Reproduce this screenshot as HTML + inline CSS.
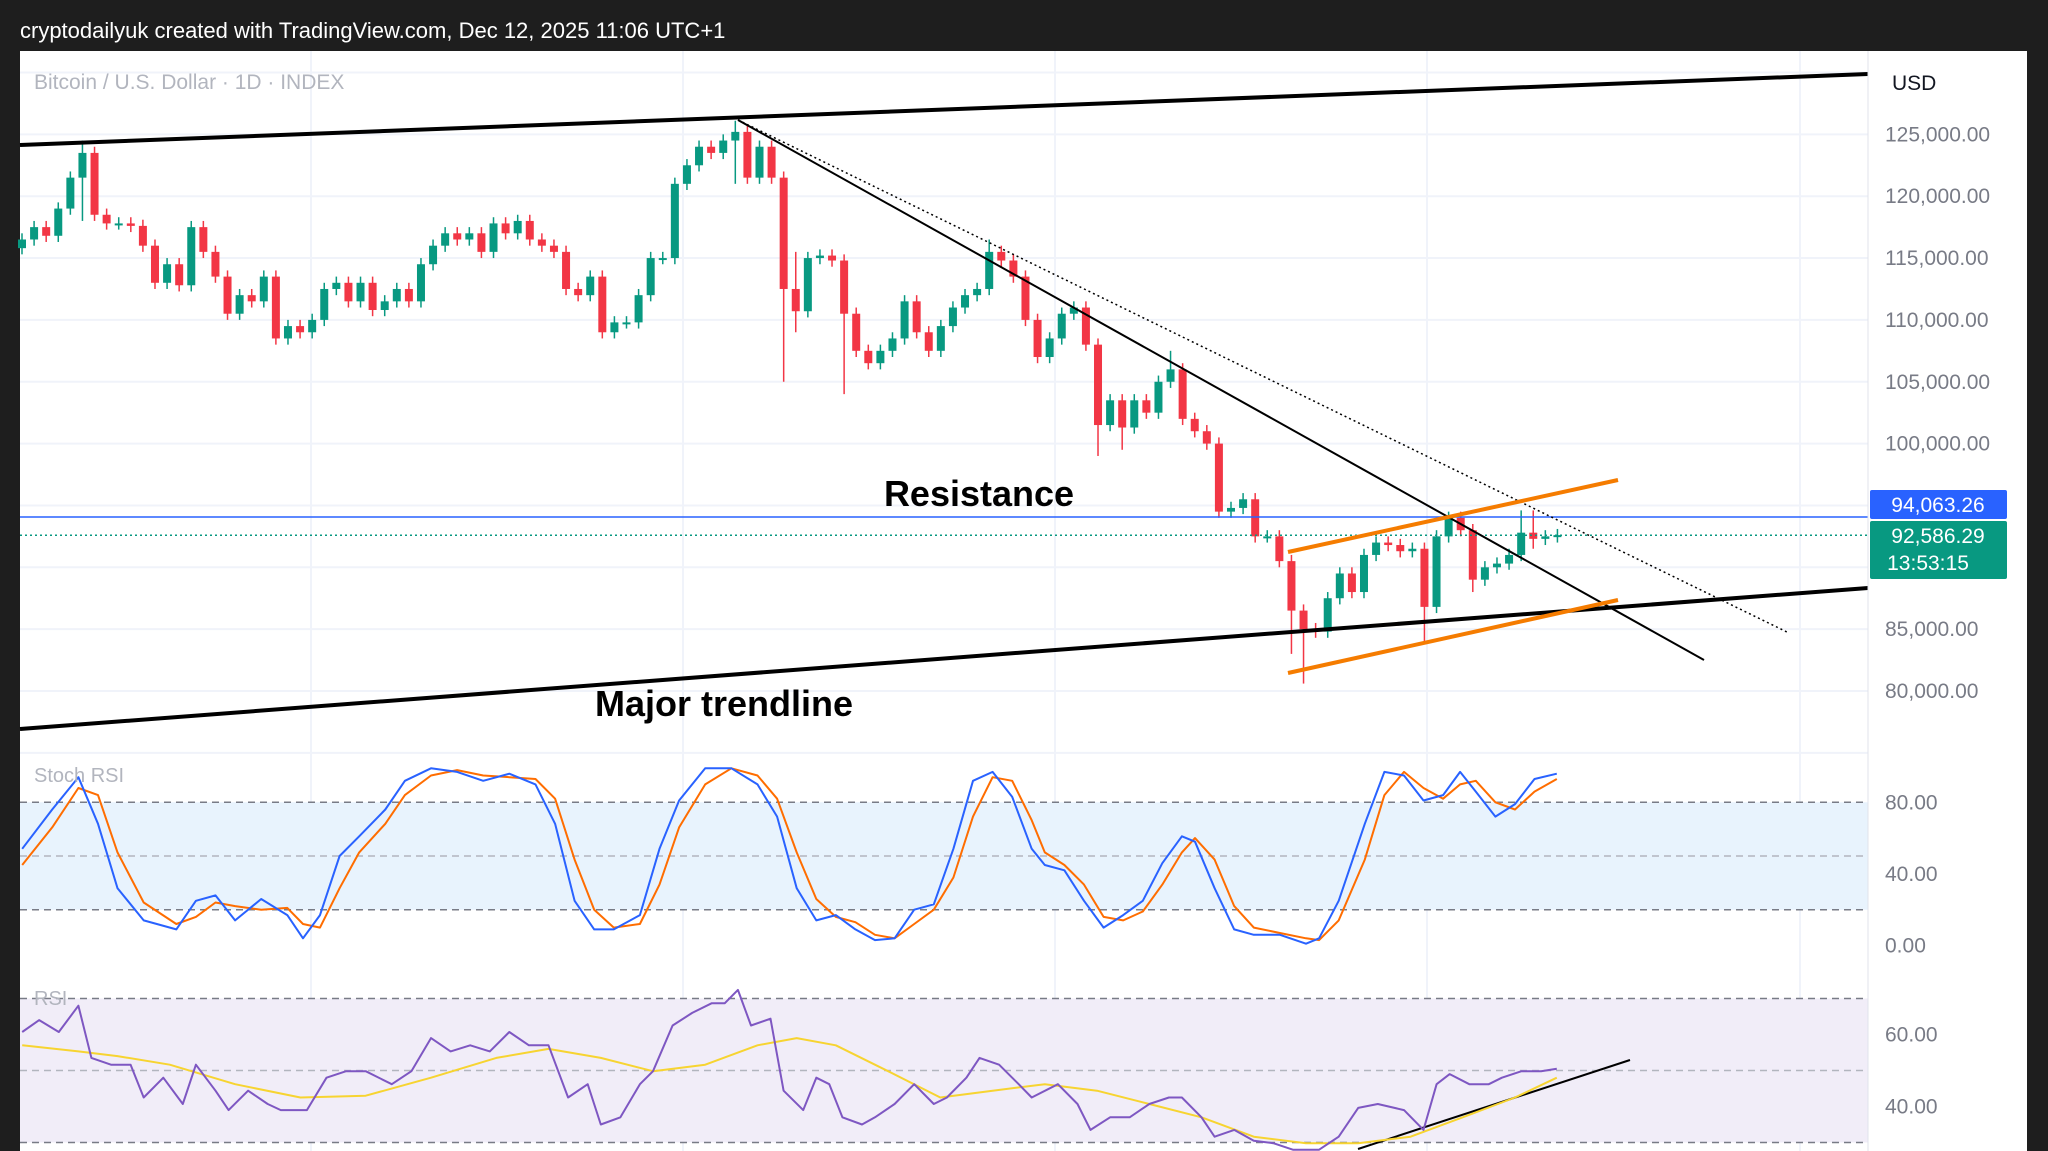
<!DOCTYPE html>
<html><head><meta charset="utf-8"><style>
html,body{margin:0;padding:0;background:#1e1e1e;}
svg{display:block;font-family:"Liberation Sans",sans-serif;}
</style></head><body>
<svg id="c" width="2048" height="1151" viewBox="0 0 2048 1151" xmlns="http://www.w3.org/2000/svg">
<rect x="0" y="0" width="2048" height="1151" fill="#1e1e1e"/>
<text x="20" y="38" font-size="22" fill="#ffffff">cryptodailyuk created with TradingView.com, Dec 12, 2025 11:06 UTC+1</text>
<rect x="20" y="51" width="2007" height="1100" fill="#ffffff"/>
<g id="grid"></g>
<g id="fills"></g>
<g id="price"></g>
<g id="draw"></g>
<g id="ind"></g>
<g id="axis"></g>
<text x="34" y="89" font-size="21" fill="#b2b5be">Bitcoin / U.S. Dollar · 1D · INDEX</text>
<text x="34" y="782" font-size="20" fill="#b2b5be">Stoch RSI</text>
<text x="34" y="1005" font-size="20" fill="#b2b5be">RSI</text>
<text x="979" y="506" font-size="36" font-weight="bold" text-anchor="middle" fill="#000">Resistance</text>
<text x="724" y="716" font-size="36" font-weight="bold" text-anchor="middle" fill="#000">Major trendline</text>
<text x="1892" y="90" font-size="21" fill="#131722">USD</text>
</svg>
<script>
const closes=[116.5,117.5,116.8,119,121.5,123.5,118.5,117.8,117.8,117.6,116,113,114.5,112.8,117.5,115.5,113.5,110.5,112,111.5,113.5,108.5,109.5,109,110,112.5,113,111.5,113,110.8,111.5,112.5,111.5,114.5,116,117,116.5,117,115.5,117.8,117,118,116.5,116,115.5,112.5,112,113.5,109,109.8,109.8,112,115,115,121,122.5,124,123.5,124.5,125.2,121.5,124,121.5,112.5,110.7,115,115.2,114.8,110.5,107.5,106.5,107.5,108.5,111.5,109,107.5,109.5,111,112,112.5,115.5,114.8,113.5,110,107,108.5,110.5,111,108,101.5,103.5,101.3,103.5,102.5,105,106,102,101,100,94.5,94.8,95.5,92.5,92.5,90.5,86.5,85,84.8,87.5,89.5,88,91,92,91.8,91.3,91.5,86.8,92.5,94,93,89,90,90.3,91,92.8,92.3,92.5,92.6];
const firstOpen=115.8;
const wickIdx=[5,59,63,64,68,80,89,91,95,105,106,116,120,124,125];
const wickHi=[124.5,126.1,121.5,115.5,115,116.5,104,104,107.5,91,87,92,93.5,94.6,94.6];
const wickLo=[118,121,105,109,104,113,99,99.5,104.5,83,80.6,84,88,91,91.5];
const stochX=[17,40,60,75,90,110,135,150,165,180,200,220,232,245,260,275,295,310,330,350,370,390,410,425,440,455,470,490,505,520,540,560,580,595,610,625,640,655,670,685,700,715,730,745,760,775,790,800,815,830,845,860,875,890,905,915,930,945,960,980,1000,1010,1025,1045,1060,1075,1090,1105,1118,1130,1145,1160,1175,1192];
const stochK=[54,76,94,68,32,14,9,25,28,14,26,17,4,17,50,61,76,92,99,97,92,96,90,68,25,9,9,17,54,81,99,99,90,72,32,14,17,9,3,4,20,23,54,92,97,83,54,45,42,25,10,17,25,46,61,58,32,9,6,6,1,4,25,68,97,95,81,84,97,86,72,79,93,96];
const stochD=[45,66,88,84,52,24,12,16,24,22,20,21,12,10,32,52,68,84,95,98,95,94,93,82,48,20,10,12,34,66,90,99,95,82,52,26,16,13,6,4,12,20,38,72,94,92,70,52,45,34,16,14,19,34,52,60,48,22,10,7,4,3,14,48,84,97,88,82,90,92,80,76,86,93];
const rsiX=[17,30,45,60,70,85,100,110,125,140,150,165,175,190,205,215,235,250,265,280,300,315,330,345,360,375,390,405,420,435,450,460,475,490,500,515,530,545,555,565,575,590,600,615,625,635,645,660,670,685,700,715,725,740,750,765,780,790,810,825,835,850,865,880,895,905,920,930,945,960,975,990,1010,1025,1040,1055,1075,1090,1100,1110,1125,1140,1150,1165,1180,1192];
const rsiV=[60.7,64,60.7,68,53.5,51.6,51.6,42.5,48,40.7,51.6,44.4,39,44.4,40.7,39,39,48,49.8,49.8,46.2,49.8,59,55.3,57,55.3,60.7,57,57,42.5,46.2,35,37,46.2,49.8,62.5,66,68.7,68.7,72.4,62.5,64.4,44.4,39,48,46.2,37,35,37,40.7,46.2,40.7,42.5,48,53.5,51.6,46.2,42.5,46.2,40.7,33.5,37,37,40.7,42.5,42.5,37,31.6,33.5,30.5,29.8,28,28,31.6,39.6,40.7,39,33.5,46.2,49,46.2,46.2,48,49.8,49.8,50.5];
const maX=[17,60,90,130,180,230,280,330,380,420,460,500,540,580,610,640,680,720,760,800,840,880,920,960,1000,1040,1080,1120,1160,1192];
const maV=[57,55.3,54,51.6,46.2,42.5,43,48,53.5,56,53.5,49.8,51.6,57,59,57,49.8,42.5,44.4,46.2,44.4,40.7,37,31.6,29.8,29.8,31.6,37,42.5,48];
const priceTicks=[125000,120000,115000,110000,105000,100000,85000,80000];
const stochTicks=[80,40,0];
const rsiTicks=[60,40];

const NS="http://www.w3.org/2000/svg";
function mk(p,t,a){const e=document.createElementNS(NS,t);for(const k in a)e.setAttribute(k,a[k]);document.getElementById(p).appendChild(e);return e;}
const L=20,R=1868;
const xI=i=>22+i*12.09;
const xD=d=>d*1.306;
const yP=p=>691-(p-80000)*0.01237;
const yS=v=>945.5-v*1.79;
const yR=v=>1070.5-(v-50)*3.6;

// grid
for(let p=75000;p<=130000;p+=5000){const e=mk('grid','line',{x1:L,x2:R,y1:yP(p),y2:yP(p),stroke:'#f0f3fa','stroke-width':2});}
[311,683,1055,1427,1800].forEach(x=>{const e=mk('grid','line',{x1:x,x2:x,y1:51,y2:1151,stroke:'#f0f3fa','stroke-width':2});});
// indicator fills
let f=mk('fills','rect',{x:L,y:yS(80),width:R-L,height:yS(20)-yS(80),fill:'#e8f3fd'});

f=mk('fills','rect',{x:L,y:yR(70),width:R-L,height:yR(30)-yR(70),fill:'#f1edf8'});

[[yS(80),'#787b86'],[yS(50),'#b2b5be'],[yS(20),'#787b86'],[yR(70),'#787b86'],[yR(50),'#b2b5be'],[yR(30),'#787b86']].forEach(([y,c])=>{const e=mk('fills','line',{x1:L,x2:R,y1:y,y2:y,stroke:c,'stroke-width':1.5,'stroke-dasharray':'7 5'});});
// candles
let prev=firstOpen;
closes.forEach((c,i)=>{
 const o=prev;prev=c;
 const up=c>=o,col=up?'#089981':'#f23645';
 let hi=Math.max(o,c)+0.5,lo=Math.min(o,c)-0.5;
 const w=wickIdx.indexOf(i);if(w>=0){hi=Math.max(hi,wickHi[w]);lo=Math.min(lo,wickLo[w]);}
 const x=xI(i);
 const wk=mk('price','line',{x1:x,x2:x,y1:yP(hi*1000),y2:yP(lo*1000),stroke:col,'stroke-width':1.5});
 
 const t=yP(Math.max(o,c)*1000),b=yP(Math.min(o,c)*1000);
 const r=mk('price','rect',{x:x-4,y:t,width:8,height:Math.max(2,b-t),fill:col});
 
});
// drawings
function ln(x1,y1,x2,y2,c,w,d,name){const e=mk('draw','line',{x1,y1,x2,y2,stroke:c,'stroke-width':w});if(d)e.setAttribute('stroke-dasharray',d);}
ln(L,yP(94063.26),R,yP(94063.26),'#2962ff',1.5,null,'resistance-line');
ln(L,yP(92586.29),R,yP(92586.29),'#089981',1.5,'2 3','last-price-line');
ln(20,145,1868,74,'#000',4,null,'upper-trendline');
ln(20,729,1868,588,'#000',4,null,'major-trendline');
ln(738,120,1704,660,'#000',2,null,'descending-trendline');
ln(738,120,1789,633,'#000',1.5,'2 3','dotted-trendline');
ln(1288,552,1618,480,'#f57c00',4,null,'channel-upper');
ln(1288,673,1618,600,'#f57c00',4,null,'channel-lower');
ln(1358,1149,1630,1060,'#000',2,null,'rsi-trendline');
// indicators
function poly(xs,vs,yf,c,w,name){const p=xs.map((x,i)=>xD(x).toFixed(1)+','+yf(vs[i]).toFixed(1)).join(' ');const e=mk('ind','polyline',{points:p,fill:'none',stroke:c,'stroke-width':w,'stroke-linejoin':'round'});}
poly(stochX,stochD,yS,'#ff6d00',2,'stoch-d-line');
poly(stochX,stochK,yS,'#2962ff',2,'stoch-k-line');
poly(maX,maV,yR,'#f7d431',2,'rsi-ma-line');
poly(rsiX,rsiV,yR,'#7e57c2',2,'rsi-line');
// axis
let a=mk('axis','rect',{x:R,y:51,width:2027-R,height:1100,fill:'#fff'});
a=mk('axis','line',{x1:R,x2:R,y1:51,y2:1151,stroke:'#e0e3eb','stroke-width':1});
a=mk('axis','rect',{x:2027,y:51,width:21,height:1100,fill:'#1e1e1e'});
function tk(y,s,name){const e=mk('axis','text',{x:1885,y:y+7,'font-size':21,fill:'#787b86'});e.textContent=s;}
priceTicks.forEach(p=>tk(yP(p),p.toLocaleString('en-US')+'.00','price-tick'));
stochTicks.forEach(v=>tk(yS(v),v.toFixed(2),'stoch-tick'));
rsiTicks.forEach(v=>tk(yR(v),v.toFixed(2),'rsi-tick'));
a=mk('axis','rect',{x:1870,y:490,width:137,height:29,fill:'#2962ff',rx:2});
a=mk('axis','text',{x:1938,y:512,'font-size':21,fill:'#fff','text-anchor':'middle'});a.textContent='94,063.26';
a=mk('axis','rect',{x:1870,y:521,width:137,height:58,fill:'#089981',rx:2});
a=mk('axis','text',{x:1938,y:543,'font-size':21,fill:'#fff','text-anchor':'middle'});a.textContent='92,586.29';
a=mk('axis','text',{x:1928,y:570,'font-size':21,fill:'#fff','text-anchor':'middle'});a.textContent='13:53:15';
</script>
</body></html>
